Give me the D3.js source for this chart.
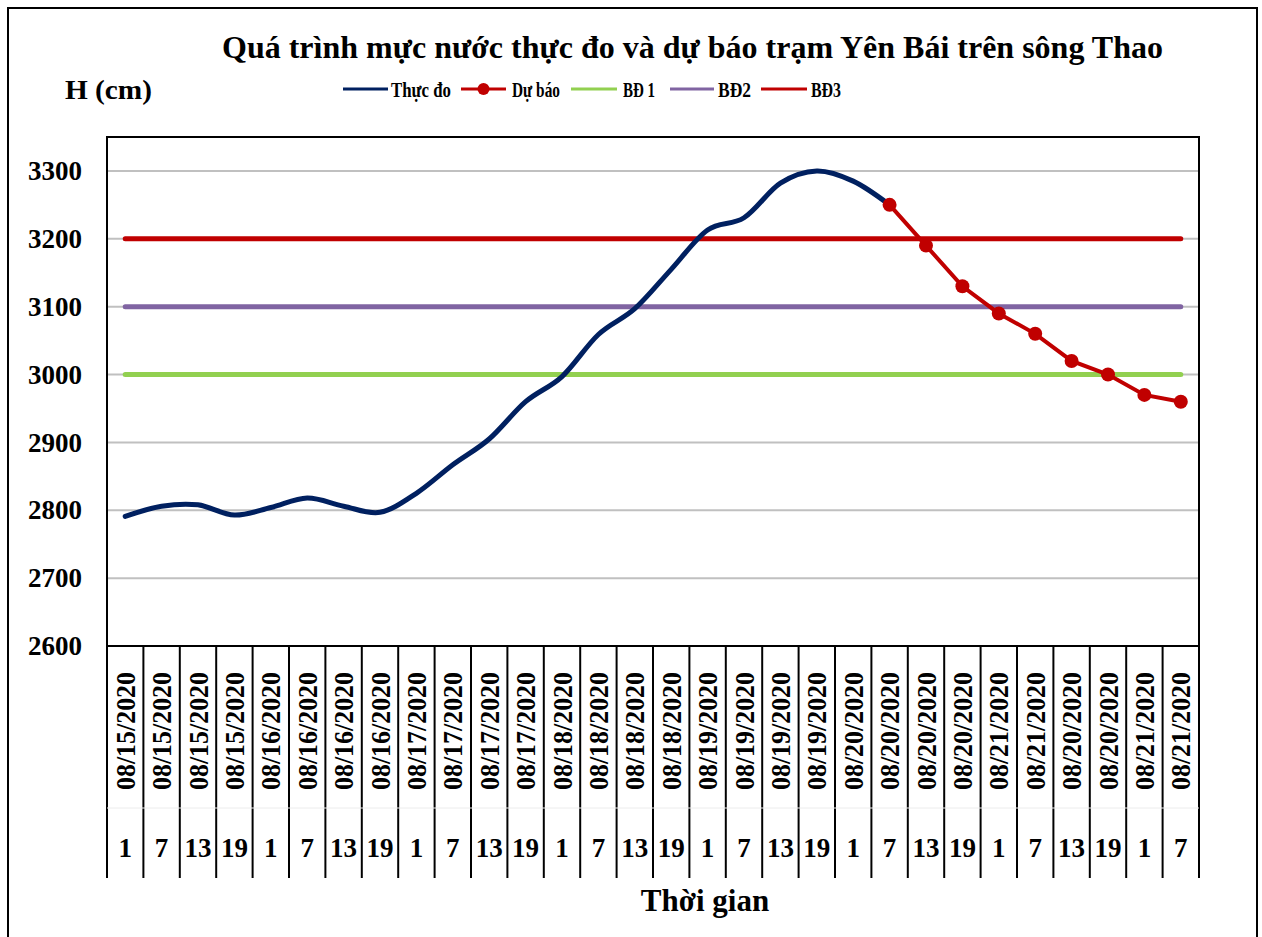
<!DOCTYPE html>
<html>
<head>
<meta charset="utf-8">
<script src="https://cdn.jsdelivr.net/npm/d3@7"></script>
<style>
  body { margin: 0; background: #fff; }
  text { font-family: "Liberation Serif", "Times New Roman", serif; font-weight: bold; fill: #000; }
</style>
</head>
<body>
<div id="chart"></div>
<script>
const dates = [
    "08/15/2020", "08/15/2020", "08/15/2020", "08/15/2020",
    "08/16/2020", "08/16/2020", "08/16/2020", "08/16/2020",
    "08/17/2020", "08/17/2020", "08/17/2020", "08/17/2020",
    "08/18/2020", "08/18/2020", "08/18/2020", "08/18/2020",
    "08/19/2020", "08/19/2020", "08/19/2020", "08/19/2020",
    "08/20/2020", "08/20/2020", "08/20/2020", "08/20/2020",
    "08/21/2020", "08/21/2020", "08/20/2020", "08/20/2020",
    "08/21/2020", "08/21/2020"
];
const hours = [1, 7, 13, 19, 1, 7, 13, 19, 1, 7, 13, 19, 1, 7, 13, 19,
               1, 7, 13, 19, 1, 7, 13, 19, 1, 7, 13, 19, 1, 7];

// Thực đo: index 0..21
const observed = [2791, 2806, 2808, 2793, 2804, 2818, 2806, 2797, 2825, 2867, 2905,
                  2960, 2997, 3059, 3097, 3155, 3213, 3231, 3282, 3300, 3285, 3250];
// Dự báo: index 21..29
const forecastStart = 21;
const forecast = [3250, 3190, 3130, 3090, 3060, 3020, 3000, 2970, 2960];

const bd1 = 3000, bd2 = 3100, bd3 = 3200;
const yTicks = [2600, 2700, 2800, 2900, 3000, 3100, 3200, 3300];

const W = 1262, H = 937;
const pLeft = 107, pRight = 1199, pTop = 137, pBottom = 646;

const svg = d3.select("#chart").append("svg")
    .attr("width", W)
    .attr("height", H);

// outer frame
svg.append("rect")
    .attr("x", 8).attr("y", 8)
    .attr("width", 1249).attr("height", 940)
    .attr("fill", "none").attr("stroke", "#000").attr("stroke-width", 2);

const n = dates.length;
const xScale = d3.scaleBand().domain(d3.range(n)).range([pLeft, pRight]);
const cx = (i) => xScale(i) + xScale.bandwidth() / 2;

const yScale = d3.scaleLinear().domain([2600, 3350]).range([pBottom, pTop]);

// gridlines
svg.append("g")
    .selectAll("line")
    .data(yTicks)
    .enter()
    .append("line")
    .attr("x1", pLeft).attr("x2", pRight)
    .attr("y1", (d) => yScale(d)).attr("y2", (d) => yScale(d))
    .attr("stroke", "#c0c0c0").attr("stroke-width", 2);

// y axis labels
const yAxis = d3.axisLeft(yScale)
    .tickValues(yTicks)
    .tickFormat(d3.format("d"))
    .tickSize(0)
    .tickPadding(25);
const yG = svg.append("g")
    .attr("transform", `translate(${pLeft}, 0)`)
    .call(yAxis);
yG.select(".domain").remove();
yG.selectAll("text")
    .attr("font-size", 27)
    .attr("font-family", "Liberation Serif")
    .attr("font-weight", "bold")
    .attr("fill", "#000");

// warning levels
const levels = [
    { v: bd1, c: "#92d050" },
    { v: bd2, c: "#8064a2" },
    { v: bd3, c: "#c00000" }
];
svg.append("g")
    .selectAll("line")
    .data(levels)
    .enter()
    .append("line")
    .attr("x1", cx(0)).attr("x2", cx(n - 1))
    .attr("y1", (d) => yScale(d.v)).attr("y2", (d) => yScale(d.v))
    .attr("stroke", (d) => d.c)
    .attr("stroke-width", 5)
    .attr("stroke-linecap", "round");

// observed line (smoothed)
const smooth = d3.line()
    .x((d, i) => cx(i))
    .y((d) => yScale(d))
    .curve(d3.curveCardinal.tension(0));

svg.append("path")
    .datum(observed)
    .attr("d", smooth)
    .attr("fill", "none")
    .attr("stroke", "#002060")
    .attr("stroke-width", 5)
    .attr("stroke-linecap", "round");

// forecast line
const straight = d3.line()
    .x((d, i) => cx(i + forecastStart))
    .y((d) => yScale(d));

svg.append("path")
    .datum(forecast)
    .attr("d", straight)
    .attr("fill", "none")
    .attr("stroke", "#c00000")
    .attr("stroke-width", 4);

svg.append("g")
    .selectAll("circle")
    .data(forecast)
    .enter()
    .append("circle")
    .attr("cx", (d, i) => cx(i + forecastStart))
    .attr("cy", (d) => yScale(d))
    .attr("r", 7)
    .attr("fill", "#c00000");

// plot border
svg.append("rect")
    .attr("x", pLeft).attr("y", pTop)
    .attr("width", pRight - pLeft).attr("height", pBottom - pTop)
    .attr("fill", "none").attr("stroke", "#000").attr("stroke-width", 2);

// category axis: dividers
const axisBottomY = 878;
svg.append("g")
    .selectAll("line")
    .data(d3.range(n + 1))
    .enter()
    .append("line")
    .attr("x1", (d) => d === n ? pRight : xScale(d))
    .attr("x2", (d) => d === n ? pRight : xScale(d))
    .attr("y1", pBottom).attr("y2", axisBottomY)
    .attr("stroke", "#000").attr("stroke-width", 2);

svg.append("line")
    .attr("x1", pLeft).attr("x2", pRight)
    .attr("y1", 808).attr("y2", 808)
    .attr("stroke", "#ececec").attr("stroke-width", 1);

// date labels
svg.append("g")
    .selectAll("text")
    .data(dates)
    .enter()
    .append("text")
    .attr("transform", (d, i) => `translate(${cx(i)}, 731) rotate(-90)`)
    .attr("text-anchor", "middle")
    .attr("dominant-baseline", "central")
    .attr("font-size", 28)
    .attr("textLength", 118)
    .attr("lengthAdjust", "spacingAndGlyphs")
    .text((d) => d);

// hour labels
svg.append("g")
    .selectAll("text")
    .data(hours)
    .enter()
    .append("text")
    .attr("x", (d, i) => cx(i))
    .attr("y", 848)
    .attr("text-anchor", "middle")
    .attr("dominant-baseline", "central")
    .attr("font-size", 27)
    .text((d) => d);

// title
svg.append("text")
    .attr("x", 222).attr("y", 58)
    .attr("font-size", 31)
    .attr("textLength", 941)
    .attr("lengthAdjust", "spacingAndGlyphs")
    .text("Quá trình mực nước thực đo và dự báo trạm Yên Bái trên sông Thao");

svg.append("text")
    .attr("x", 65).attr("y", 99)
    .attr("font-size", 28)
    .attr("textLength", 87)
    .attr("lengthAdjust", "spacingAndGlyphs")
    .text("H (cm)");

svg.append("text")
    .attr("x", 705).attr("y", 911)
    .attr("text-anchor", "middle")
    .attr("font-size", 31)
    .text("Thời gian");

// legend
const legendItems = [
    { name: "Thực đo", c: "#002060", x1: 343, x2: 388, tx: 391, tw: 60, marker: false },
    { name: "Dự báo", c: "#c00000", x1: 461, x2: 506, tx: 512, tw: 48, marker: true },
    { name: "BĐ 1", c: "#92d050", x1: 571, x2: 617, tx: 623, tw: 32, marker: false },
    { name: "BĐ2", c: "#8064a2", x1: 670, x2: 714, tx: 718, tw: 33, marker: false },
    { name: "BĐ3", c: "#c00000", x1: 761, x2: 807, tx: 811, tw: 30, marker: false }
];
const legendY = 89;
const legend = svg.append("g").attr("id", "legend");
legendItems.forEach((d) => {
    legend.append("line")
        .attr("x1", d.x1).attr("x2", d.x2)
        .attr("y1", legendY).attr("y2", legendY)
        .attr("stroke", d.c).attr("stroke-width", 3);
    if (d.marker) {
        legend.append("circle")
            .attr("cx", (d.x1 + d.x2) / 2).attr("cy", legendY)
            .attr("r", 6).attr("fill", d.c);
    }
    legend.append("text")
        .attr("x", d.tx).attr("y", legendY + 8)
        .attr("font-size", 22)
        .attr("textLength", d.tw)
        .attr("lengthAdjust", "spacingAndGlyphs")
        .text(d.name);
});
</script>
</body>
</html>
